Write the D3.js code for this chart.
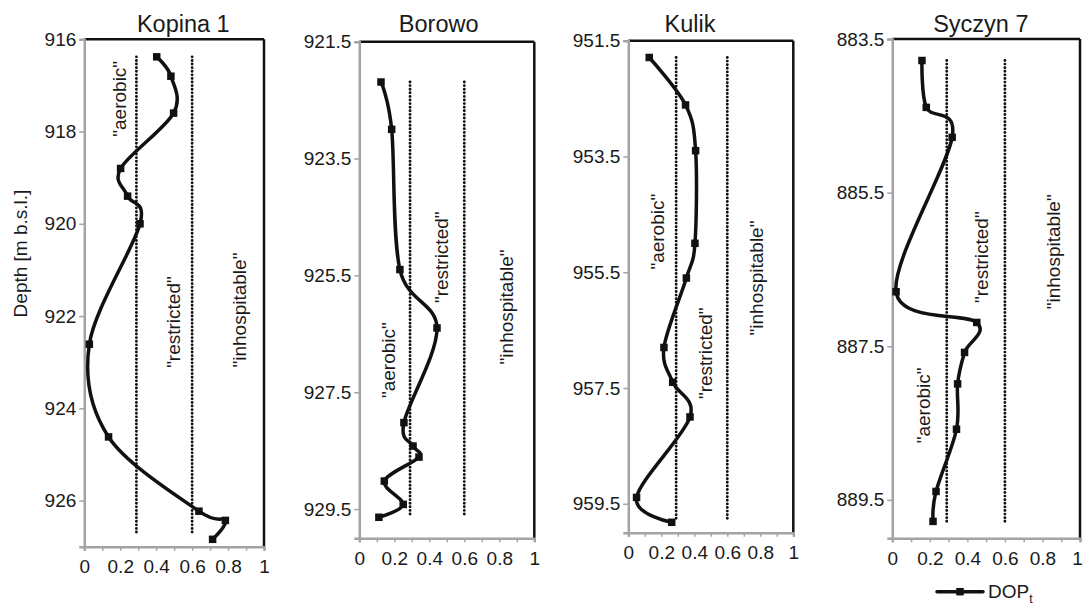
<!DOCTYPE html>
<html><head><meta charset="utf-8">
<script src="https://cdn.jsdelivr.net/npm/d3@7"></script>
<style>
html,body{margin:0;padding:0;background:#fff;}
text{font-family:"Liberation Sans",Arial,sans-serif;fill:#1a1a1a;}
</style></head>
<body>
<svg id="chart" width="1084" height="605"></svg>
<script>
// ---------- data ----------
const sites = ["Kopina 1", "Borowo", "Kulik", "Syczyn 7"];

const kopinaDepth = [916.38, 916.80, 917.60, 918.80, 919.40, 920.00, 922.61, 924.62, 926.23, 926.43, 926.84];
const kopinaDOP   = [0.403, 0.482, 0.497, 0.202, 0.241, 0.310, 0.028, 0.135, 0.638, 0.785, 0.714];

const borowoDepth = [922.19, 923.00, 925.40, 926.40, 928.02, 928.42, 928.61, 929.02, 929.42, 929.64];
const borowoDOP   = [0.124, 0.185, 0.232, 0.444, 0.255, 0.307, 0.341, 0.143, 0.251, 0.112];

const kulikDepth = [951.79, 952.61, 953.40, 955.00, 955.60, 956.80, 957.40, 958.00, 959.39, 959.82];
const kulikDOP   = [0.127, 0.347, 0.408, 0.404, 0.352, 0.216, 0.269, 0.374, 0.050, 0.263];

const syczynDepth = [883.78, 884.39, 884.78, 886.79, 887.19, 887.58, 887.99, 888.58, 889.39, 889.78];
const syczynDOP   = [0.158, 0.181, 0.319, 0.020, 0.450, 0.385, 0.348, 0.342, 0.233, 0.217];

const kopinaTicks = [916, 918, 920, 922, 924, 926];
const borowoTicks = [921.5, 923.5, 925.5, 927.5, 929.5];
const kulikTicks  = [951.5, 953.5, 955.5, 957.5, 959.5];
const syczynTicks = [883.5, 885.5, 887.5, 889.5];

const depthDomains = [[916, 927], [921.5, 930], [951.5, 960], [883.5, 890]];
const thresholdSpans = [[916.38, 926.7], [922.19, 929.64], [951.79, 959.78], [883.78, 889.79]];

const xTickLabels = [0, 0.2, 0.4, 0.6, 0.8, 1];
const xMinorTicks = [0, 0.1, 0.2, 0.3, 0.4, 0.5, 0.6, 0.7, 0.8, 0.9, 1];
const thresholds = [0.29, 0.6];
const zoneNames = ['"aerobic"', '"restricted"', '"inhospitable"'];
const yAxisTitle = "Depth [m b.s.l.]";
const legendLabel = "DOP";
const legendSub = "t";

// ---------- layout (positions/styles only) ----------
const layout = [
  {left: 84.3, right: 264, top: 39.3, bottom: 546.7, titleX: 183.3, fmt: d3.format("d"),
   zones: [[0.232, 917.29], [0.533, 922.13], [0.90, 921.87]]},
  {left: 359.3, right: 534.3, top: 41.7, bottom: 538.3, titleX: 438.7, fmt: d3.format(".1f"),
   zones: [[0.204, 926.95], [0.507, 925.19], [0.878, 926.04]]},
  {left: 628.3, right: 793.3, top: 40.7, bottom: 532.7, titleX: 690, fmt: d3.format(".1f"),
   zones: [[0.216, 954.80], [0.507, 956.9], [0.816, 955.6]]},
  {left: 892.3, right: 1080, top: 39, bottom: 538.3, titleX: 980.8, fmt: d3.format(".1f"),
   zones: [[0.20, 888.27], [0.51, 886.34], [0.893, 886.27]]}
];

const series = [
  {depth: kopinaDepth, dop: kopinaDOP, ticks: kopinaTicks},
  {depth: borowoDepth, dop: borowoDOP, ticks: borowoTicks},
  {depth: kulikDepth, dop: kulikDOP, ticks: kulikTicks},
  {depth: syczynDepth, dop: syczynDOP, ticks: syczynTicks}
];

const svg = d3.select("#chart");
const AXIS_GRAY = "#a3a3a3";
const FONT = 19;

sites.forEach((name, i) => {
  const L = layout[i], S = series[i];
  const x = d3.scaleLinear().domain([0, 1]).range([L.left, L.right]);
  const y = d3.scaleLinear().domain(depthDomains[i]).range([L.top, L.bottom]);
  const g = svg.append("g");

  // frame: top & right black
  g.append("line").attr("x1", L.left).attr("x2", L.right).attr("y1", L.top).attr("y2", L.top)
    .attr("stroke", "#111").attr("stroke-width", 2.5);
  g.append("line").attr("x1", L.right).attr("x2", L.right).attr("y1", L.top).attr("y2", L.bottom)
    .attr("stroke", "#111").attr("stroke-width", 2.5);

  // x axis (bottom)
  const xAxis = d3.axisBottom(x).tickValues(xMinorTicks).tickSize(4).tickPadding(9)
    .tickFormat(d => xTickLabels.some(t => Math.abs(t - d) < 1e-9) ? d3.format("~g")(d) : "");
  const gx = g.append("g").attr("transform", `translate(0,${L.bottom})`).call(xAxis);
  gx.select(".domain").attr("stroke", AXIS_GRAY).attr("stroke-width", 2.5);
  gx.selectAll(".tick line").attr("stroke", AXIS_GRAY).attr("stroke-width", 1.5);
  gx.selectAll("text").attr("font-size", FONT).attr("fill", "#1a1a1a")
    .style("font-family", '"Liberation Sans",Arial,sans-serif');
  if (i === sites.length - 1) {
    gx.selectAll("text").filter(d => d === 1).attr("dx", -3);
  }

  // y axis (left)
  const yAxis = d3.axisLeft(y).tickValues(S.ticks).tickSize(5).tickPadding(3).tickFormat(L.fmt);
  const gy = g.append("g").attr("transform", `translate(${L.left},0)`).call(yAxis);
  gy.select(".domain").attr("stroke", AXIS_GRAY).attr("stroke-width", 2.5);
  gy.selectAll(".tick line").attr("stroke", AXIS_GRAY).attr("stroke-width", 1.5);
  gy.selectAll("text").attr("font-size", FONT).attr("fill", "#1a1a1a")
    .style("font-family", '"Liberation Sans",Arial,sans-serif');

  // threshold dotted lines
  g.selectAll(".thr").data(thresholds).enter().append("line")
    .attr("x1", d => x(d)).attr("x2", d => x(d))
    .attr("y1", y(thresholdSpans[i][0])).attr("y2", y(thresholdSpans[i][1]))
    .attr("stroke", "#111").attr("stroke-width", 2.9)
    .attr("stroke-linecap", "round").attr("stroke-dasharray", "0 3.6");

  // zone labels
  L.zones.forEach((z, k) => {
    g.append("text").attr("transform", `translate(${x(z[0])},${y(z[1])}) rotate(-90)`)
      .attr("text-anchor", "middle").attr("font-size", FONT).text(zoneNames[k]);
  });

  // curve
  const pts = S.depth.map((d, k) => [S.dop[k], d]);
  const line = d3.line().x(p => x(p[0])).y(p => y(p[1])).curve(d3.curveCardinal.tension(0));
  g.append("path").attr("d", line(pts)).attr("fill", "none").attr("stroke", "#111")
    .attr("stroke-width", 3.5).attr("stroke-linejoin", "round");

  // markers
  const ms = 7.5;
  g.selectAll(".mk").data(pts).enter().append("rect")
    .attr("x", p => x(p[0]) - ms / 2).attr("y", p => y(p[1]) - ms / 2)
    .attr("width", ms).attr("height", ms).attr("fill", "#111");

  // title
  g.append("text").attr("x", L.titleX).attr("y", 32).attr("text-anchor", "middle")
    .attr("font-size", 23.5).text(name);
});

// y axis title
svg.append("text").attr("transform", "translate(27,253.5) rotate(-90)")
  .attr("text-anchor", "middle").attr("font-size", FONT).text(yAxisTitle);

// legend
const lg = svg.append("g");
lg.append("line").attr("x1", 937).attr("x2", 983).attr("y1", 591.7).attr("y2", 591.7)
  .attr("stroke", "#111").attr("stroke-width", 3.5).attr("stroke-linecap", "round");
lg.append("rect").attr("x", 960 - 3.75).attr("y", 591.7 - 3.75).attr("width", 7.5).attr("height", 7.5).attr("fill", "#111");
const lt = lg.append("text").attr("x", 988).attr("y", 597.5).attr("font-size", FONT);
lt.append("tspan").text(legendLabel);
lt.append("tspan").attr("font-size", 12.5).attr("dy", 5).text(legendSub);
</script>
</body></html>
